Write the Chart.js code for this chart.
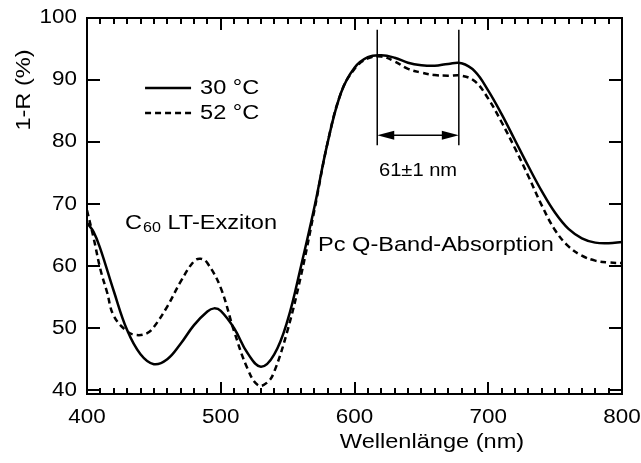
<!DOCTYPE html>
<html>
<head>
<meta charset="utf-8">
<script src="https://cdn.jsdelivr.net/npm/chart.js@4"></script>
<style>
  html, body { margin: 0; padding: 0; background: #fff; }
  #wrap { width: 641px; height: 463px; }
</style>
</head>
<body>
<div id="wrap"><canvas id="chart" width="641" height="463"></canvas></div>
<script>
// --- data ---
const wavelengths30 = [400, 405, 410, 420, 430, 440, 450, 460, 470, 480, 490, 495, 500, 510, 520, 530, 540, 550, 560, 570, 580, 590, 600, 610, 620, 630, 640, 650, 660, 670, 680, 690, 700, 710, 720, 730, 740, 750, 760, 770, 780, 790, 800];
const values30 = [67.0, 65.5, 62.8, 56.0, 49.7, 45.8, 44.2, 45.0, 47.5, 50.5, 52.7, 53.2, 52.8, 50.0, 46.0, 43.8, 45.8, 51.3, 60.0, 69.5, 80.0, 88.0, 92.0, 93.7, 94.0, 93.6, 92.8, 92.4, 92.3, 92.6, 92.7, 91.4, 88.3, 84.5, 80.3, 76.1, 72.1, 68.6, 66.0, 64.5, 63.8, 63.7, 63.9];

const wavelengths52 = [400, 405, 410, 415, 420, 430, 437, 445, 450, 460, 470, 480, 485, 490, 500, 510, 520, 528, 535, 540, 550, 560, 570, 580, 590, 600, 610, 620, 630, 640, 650, 660, 670, 680, 690, 700, 710, 720, 730, 740, 750, 760, 770, 780, 790, 800];
const values52 = [69.0, 64.5, 59.5, 55.8, 52.0, 49.5, 48.9, 49.2, 50.2, 53.5, 57.5, 60.8, 61.2, 60.5, 56.5, 49.5, 43.5, 40.8, 41.3, 43.0, 49.7, 58.5, 69.0, 80.0, 88.0, 91.8, 93.5, 93.8, 93.0, 91.8, 91.2, 90.8, 90.7, 90.7, 89.8, 87.0, 83.2, 79.0, 74.5, 69.8, 65.8, 63.2, 61.7, 60.9, 60.6, 60.5];

const seriesLabels = ['30 °C', '52 °C'];
const xTickLabels = [400, 500, 600, 700, 800];
const yTickLabels = [40, 50, 60, 70, 80, 90, 100];

// annotation: peak distance (nm, in data units)
const peakLeft = 617;
const peakRight = 678;
const peakText = '61±1 nm';

const FONT = 'Liberation Sans, Arial, Helvetica, sans-serif';
const SX = 1.15; // the reference text is a bit wider than plain Arial

function toPoints(xs, ys) {
    return xs.map((x, i) => ({ x: x, y: ys[i] }));
}

// draws text horizontally stretched by SX, returns the drawn width
function wideText(ctx, text, x, y, size, align) {
    ctx.save();
    ctx.font = size + 'px ' + FONT;
    ctx.textAlign = align || 'left';
    ctx.textBaseline = 'middle';
    ctx.translate(x, y);
    ctx.scale(SX, 1);
    ctx.fillText(text, 0, 0);
    const w = ctx.measureText(text).width * SX;
    ctx.restore();
    return w;
}

// frame with inward ticks on all four sides, plus tick labels
const frameTicks = {
    id: 'frameTicks',
    afterDatasetsDraw(chart) {
        const { ctx, chartArea: a, scales: { x, y } } = chart;
        ctx.save();
        ctx.strokeStyle = '#000';
        ctx.fillStyle = '#000';
        ctx.lineWidth = 2;
        ctx.beginPath();
        for (let v = 400; v <= 800; v += 10) {
            const px = Math.round(x.getPixelForValue(v));
            const len = (v % 100 === 0) ? 12 : 6;
            ctx.moveTo(px, a.bottom); ctx.lineTo(px, a.bottom - len);
            ctx.moveTo(px, a.top); ctx.lineTo(px, a.top + len);
        }
        y.ticks.forEach(t => {
            const py = Math.round(y.getPixelForValue(t.value));
            ctx.moveTo(a.left, py); ctx.lineTo(a.left + 13, py);
            ctx.moveTo(a.right, py); ctx.lineTo(a.right - 13, py);
        });
        ctx.stroke();
        ctx.strokeRect(a.left, a.top, a.right - a.left, a.bottom - a.top);

        x.ticks.forEach(t => {
            wideText(ctx, String(t.value), x.getPixelForValue(t.value), a.bottom + 24, 19.5, 'center');
        });
        y.ticks.forEach(t => {
            wideText(ctx, String(t.value), a.left - 10, y.getPixelForValue(t.value), 19.5, 'right');
        });
        ctx.restore();
    }
};

// legend, texts, peak-distance arrow, axis titles
const annotations = {
    id: 'annotations',
    afterDraw(chart) {
        const { ctx, scales: { x, y } } = chart;
        ctx.save();
        ctx.fillStyle = '#000';
        ctx.strokeStyle = '#000';

        // legend
        const lx1 = x.getPixelForValue(443.4), lx2 = x.getPixelForValue(477.8);
        const tx = x.getPixelForValue(484.5);
        [88.7, 84.7].forEach((val, i) => {
            const py = y.getPixelForValue(val);
            ctx.lineWidth = 2.5;
            ctx.setLineDash(i === 0 ? [] : [6, 4]);
            ctx.beginPath(); ctx.moveTo(lx1, py); ctx.lineTo(lx2, py); ctx.stroke();
            ctx.setLineDash([]);
            wideText(ctx, seriesLabels[i], tx, py, 20.5);
        });

        // C60 LT-Exziton
        let cx = x.getPixelForValue(428.4);
        const cy = y.getPixelForValue(66.9);
        cx += wideText(ctx, 'C', cx, cy, 20.5) + 1;
        cx += wideText(ctx, '60', cx, cy + 5, 14);
        wideText(ctx, ' LT-Exziton', cx, cy, 20.5);

        wideText(ctx, 'Pc Q-Band-Absorption', x.getPixelForValue(572.7), y.getPixelForValue(63.4), 20.5);

        // peak distance
        const p1 = x.getPixelForValue(peakLeft), p2 = x.getPixelForValue(peakRight);
        const top = y.getPixelForValue(98.1), bot = y.getPixelForValue(79.5);
        const ay = y.getPixelForValue(81.1);
        ctx.lineWidth = 1.5;
        ctx.beginPath();
        ctx.moveTo(p1, top); ctx.lineTo(p1, bot);
        ctx.moveTo(p2, top); ctx.lineTo(p2, bot);
        ctx.moveTo(p1 + 10, ay); ctx.lineTo(p2 - 10, ay);
        ctx.stroke();
        ctx.beginPath();
        ctx.moveTo(p1, ay); ctx.lineTo(p1 + 17, ay - 4.5); ctx.lineTo(p1 + 17, ay + 4.5); ctx.closePath();
        ctx.moveTo(p2, ay); ctx.lineTo(p2 - 17, ay - 4.5); ctx.lineTo(p2 - 17, ay + 4.5); ctx.closePath();
        ctx.fill();
        wideText(ctx, peakText, x.getPixelForValue(647.5), y.getPixelForValue(75.3), 17.5, 'center');

        // axis titles
        wideText(ctx, 'Wellenlänge (nm)', 432, 442, 20.5, 'center');
        ctx.translate(24, 90);
        ctx.rotate(-Math.PI / 2);
        wideText(ctx, '1-R (%)', 0, 0, 20.5, 'center');
        ctx.restore();
    }
};

const ctx = document.getElementById('chart').getContext('2d');
new Chart(ctx, {
    type: 'line',
    data: {
        datasets: [
            {
                label: seriesLabels[1],
                data: toPoints(wavelengths52, values52),
                borderColor: '#000',
                borderWidth: 2.5,
                borderDash: [6, 4],
                pointRadius: 0,
                fill: false,
                tension: 0.4
            },
            {
                label: seriesLabels[0],
                data: toPoints(wavelengths30, values30),
                borderColor: '#000',
                borderWidth: 2.5,
                pointRadius: 0,
                fill: false,
                tension: 0.4
            }
        ]
    },
    options: {
        responsive: false,
        animation: false,
        devicePixelRatio: 1,
        layout: { padding: { top: 18, right: 19, left: 0, bottom: 0 } },
        plugins: { legend: { display: false }, tooltip: { enabled: false } },
        scales: {
            x: {
                type: 'linear',
                min: 400,
                max: 800,
                afterBuildTicks: s => { s.ticks = xTickLabels.map(v => ({ value: v })); },
                afterFit: s => { s.height = 69; },
                grid: { display: false, drawTicks: false },
                border: { display: false },
                ticks: { display: false }
            },
            y: {
                min: 39.4,
                max: 100,
                afterBuildTicks: s => { s.ticks = yTickLabels.map(v => ({ value: v })); },
                afterFit: s => { s.width = 87; },
                grid: { display: false, drawTicks: false },
                border: { display: false },
                ticks: { display: false }
            }
        }
    },
    plugins: [frameTicks, annotations]
});
</script>
</body>
</html>
